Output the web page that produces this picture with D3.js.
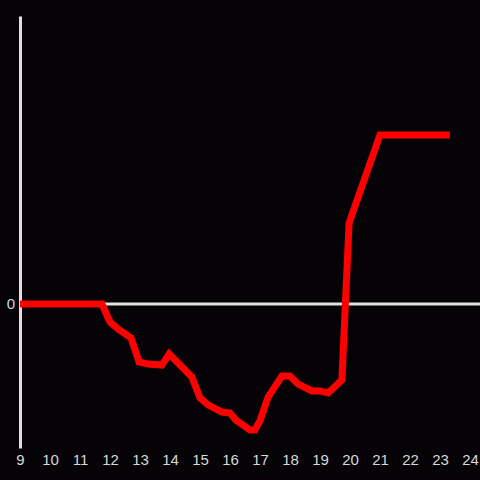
<!DOCTYPE html>
<html>
<head>
<meta charset="utf-8">
<script src="https://cdn.jsdelivr.net/npm/d3@7"></script>
<style>
  html, body { margin: 0; padding: 0; background: #050305; }
  svg { display: block; }
</style>
</head>
<body>
<figure id="chart" style="margin:0"></figure>
<script>
// data
const hours = [9, 11.73, 12.0, 12.27, 12.7, 12.97, 13.27, 13.73, 13.97, 14.27, 14.73, 15.0, 15.27,
  15.73, 16.0, 16.2, 16.67, 16.83, 17.0, 17.27, 17.73, 18.0, 18.27, 18.73, 19.0, 19.27, 19.73,
  19.97, 21.0, 23.33];
const values = [0, 0, -0.125, -0.174, -0.236, -0.403, -0.417, -0.424, -0.347, -0.41, -0.507,
  -0.653, -0.701, -0.75, -0.757, -0.806, -0.875, -0.875, -0.81, -0.646, -0.5, -0.5, -0.556,
  -0.604, -0.604, -0.618, -0.528, 0.563, 1.174, 1.174];
const xTicks = d3.range(9, 25);
const yTicks = [0];

const width = 480, height = 480;
const margin = {top: 16, right: 10, bottom: 32, left: 20};

const svg = d3.select("#chart")
  .append("svg")
  .attr("width", width)
  .attr("height", height)
  .style("background", "#050305");

const x = d3.scaleLinear()
  .domain([9, 24])
  .range([margin.left, margin.left + 450]);

const y = d3.scaleLinear()
  .domain([-1, 2])
  .range([height - margin.bottom, margin.top]);

const axisColor = "#e0e0e0";

// bottom tick labels
const xAxis = svg.append("g")
  .attr("transform", "translate(0," + (height - margin.bottom) + ")")
  .call(d3.axisBottom(x).tickValues(xTicks).tickSize(0).tickPadding(6).tickFormat(d3.format("d")));
xAxis.select(".domain").remove();
xAxis.selectAll("text")
  .attr("fill", "#d8d8d8")
  .style("font-family", "'Liberation Sans', Arial, sans-serif")
  .style("font-size", "15px");

// zero line
svg.append("line")
  .attr("x1", x(9))
  .attr("x2", width)
  .attr("y1", y(0))
  .attr("y2", y(0))
  .attr("stroke", axisColor)
  .attr("stroke-width", 3);

// left axis
const yAxis = svg.append("g")
  .attr("transform", "translate(" + margin.left + ",0)")
  .call(d3.axisLeft(y).tickValues(yTicks).tickSize(0).tickPadding(5).tickFormat(d3.format("d")));
yAxis.select(".domain")
  .attr("stroke", axisColor)
  .attr("stroke-width", 3);
yAxis.selectAll("text")
  .attr("fill", "#d8d8d8")
  .style("font-family", "'Liberation Sans', Arial, sans-serif")
  .style("font-size", "15px");

// the series
const line = d3.line()
  .x((d, i) => x(hours[i]))
  .y(d => y(d));

svg.append("path")
  .datum(values)
  .attr("d", line)
  .attr("fill", "none")
  .attr("stroke", "#ff0000")
  .attr("stroke-width", 7)
  .attr("stroke-linejoin", "miter");
</script>
</body>
</html>
